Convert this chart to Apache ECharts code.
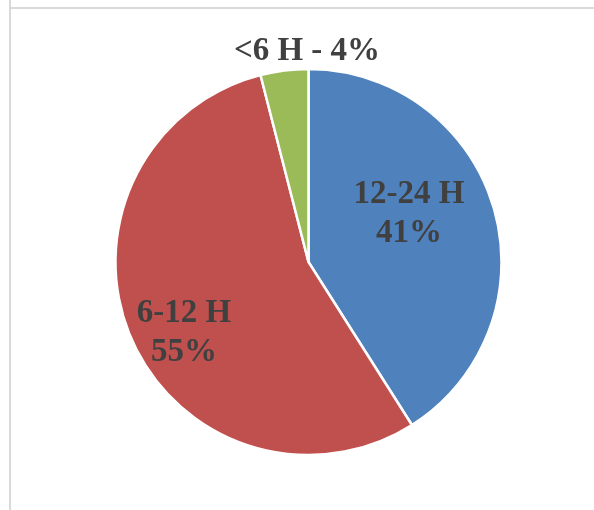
<!DOCTYPE html>
<html>
<head>
<meta charset="utf-8">
<script src="https://cdn.jsdelivr.net/npm/echarts@6/dist/echarts.min.js"></script>
<style>
  html, body { margin: 0; padding: 0; background: #ffffff; }
  #chart { width: 594px; height: 510px; }
</style>
</head>
<body>
<div id="chart"></div>
<script>
// Share of cases by duration band
const categories = ['12-24 H', '6-12 H', '<6 H'];
const shares = [41, 55, 4];
const colors = ['#4F81BD', '#C0504D', '#9BBB59'];

// Label anchor points (pixels) for each slice's text block
const labelAnchors = [[409, 214], [184, 333], [307, 51]];

const chart = echarts.init(document.getElementById('chart'), null, { renderer: 'canvas' });

chart.setOption({
  backgroundColor: '#ffffff',
  animation: false,
  graphic: [
    { type: 'line', shape: { x1: 10, y1: 0, x2: 10, y2: 510 }, style: { stroke: '#d9d9d9', lineWidth: 2 }, z: 0 },
    { type: 'line', shape: { x1: 10, y1: 8, x2: 594, y2: 8 }, style: { stroke: '#d9d9d9', lineWidth: 2 }, z: 0 },
    { type: 'rect', shape: { x: 11, y: 0, width: 583, height: 7 }, style: { fill: '#ffffff' }, z: 0 },
    { type: 'rect', shape: { x: 0, y: 0, width: 9, height: 510 }, style: { fill: '#ffffff' }, z: 0 }
  ],
  series: [{
    type: 'pie',
    center: [308.5, 262],
    radius: [0, 193],
    startAngle: 90,
    clockwise: true,
    silent: true,
    itemStyle: { borderColor: '#ffffff', borderWidth: 2.5 },
    label: {
      show: true,
      position: 'inside',
      fontFamily: '"Liberation Serif", "Times New Roman", serif',
      fontWeight: 'bold',
      fontSize: 33,
      lineHeight: 39,
      color: '#404040',
      formatter: function (p) {
        return p.dataIndex === 2 ? p.name + ' - ' + p.value + '%' : p.name + '\n' + p.value + '%';
      }
    },
    labelLine: { show: false },
    labelLayout: function (p) {
      const a = labelAnchors[p.dataIndex];
      return { x: a[0], y: a[1], align: 'center', verticalAlign: 'middle' };
    },
    data: categories.map(function (c, i) {
      return { name: c, value: shares[i], itemStyle: { color: colors[i] } };
    })
  }]
});
</script>
</body>
</html>
